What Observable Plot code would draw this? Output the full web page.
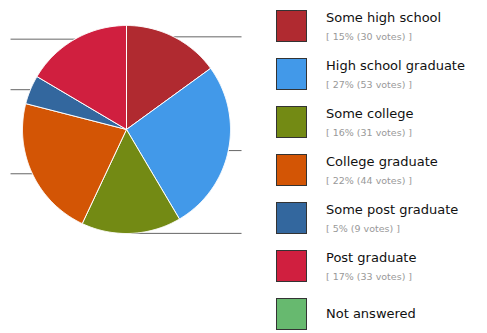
<!DOCTYPE html>
<html>
<head>
<meta charset="utf-8">
<script src="https://cdn.jsdelivr.net/npm/d3@7"></script>
<script src="https://cdn.jsdelivr.net/npm/@observablehq/plot@0.6"></script>
<style>
  html, body { margin: 0; padding: 0; background: #fff; }
  #wrap { position: relative; width: 487px; height: 333px; overflow: hidden; font-family: "DejaVu Sans", Verdana, sans-serif; }
  #chart { position: absolute; left: 0; top: 0; }
  .item { position: absolute; left: 276px; height: 32px; }
  .sw { position: absolute; left: 0; top: 0; width: 29px; height: 30px; border: 1px solid #333; }
  .lbl { position: absolute; left: 50px; top: 0px; font-size: 13px; color: #111; white-space: nowrap; }
  .sub { position: absolute; left: 50px; top: 21px; font-size: 9.5px; color: #999; white-space: nowrap; }
</style>
</head>
<body>
<div id="wrap"><div id="chart"></div></div>
<script>
const categories = ["Some high school", "High school graduate", "Some college", "College graduate", "Some post graduate", "Post graduate", "Not answered"];
const votes = [30, 53, 31, 44, 9, 33, 0];
const percents = [15, 27, 16, 22, 5, 17, 0];
const colors = ["#b02a30", "#4299e9", "#738a14", "#d35505", "#33679e", "#d01f3f", "#67b96f"];

const data = categories.map((c, i) => ({name: c, votes: votes[i], pct: percents[i], color: colors[i]}));

// slice geometry (unit radius, clockwise from 12 o'clock)
const pie = d3.pie().sort(null).value(d => d.votes)(data);
const slicePts = [];
const leaders = [];
pie.forEach(a => {
  if (a.endAngle - a.startAngle <= 0) return;
  const n = Math.max(4, Math.ceil((a.endAngle - a.startAngle) / 0.01));
  slicePts.push({name: a.data.name, x: 0, y: 0});
  for (let k = 0; k <= n; k++) {
    const t = a.startAngle + (a.endAngle - a.startAngle) * k / n;
    slicePts.push({name: a.data.name, x: Math.sin(t), y: Math.cos(t)});
  }
  slicePts.push({name: a.data.name, x: 0, y: 0});
  const m = (a.startAngle + a.endAngle) / 2;
  const px = Math.sin(m), py = Math.cos(m);
  const right = px >= -0.01;
  leaders.push({name: a.data.name, x1: px * 1.0, y1: py, x2: right ? 1.106 : -1.115, y2: py});
});

const R = 104, cx = 126, cy = 129, W = 487, H = 333;
const plot = Plot.plot({
  width: W, height: H,
  margin: 0,
  x: {domain: [-cx / R, (W - cx) / R], axis: null},
  y: {domain: [-(H - cy) / R, cy / R], axis: null},
  color: {domain: categories, range: colors},
  marks: [
    Plot.link(leaders, {x1: "x1", y1: "y1", x2: "x2", y2: "y2", stroke: "#666", strokeWidth: 1}),
    Plot.line(slicePts, {x: "x", y: "y", z: "name", fill: "name", stroke: "white", strokeWidth: 1, curve: "linear"})
  ]
});
document.getElementById("chart").appendChild(plot);

const wrap = document.getElementById("wrap");
data.forEach((d, i) => {
  const item = document.createElement("div");
  item.className = "item";
  item.style.top = (10 + i * 48) + "px";
  const sw = document.createElement("div");
  sw.className = "sw";
  sw.style.background = d.color;
  item.appendChild(sw);
  const l = document.createElement("div");
  l.className = "lbl";
  l.style.top = (d.votes > 0 ? 0 : 8) + "px";
  l.textContent = d.name;
  item.appendChild(l);
  if (d.votes > 0) {
    const s = document.createElement("div");
    s.className = "sub";
    s.textContent = `[ ${d.pct}% (${d.votes} votes) ]`;
    item.appendChild(s);
  }
  wrap.appendChild(item);
});
</script>
</body>
</html>
